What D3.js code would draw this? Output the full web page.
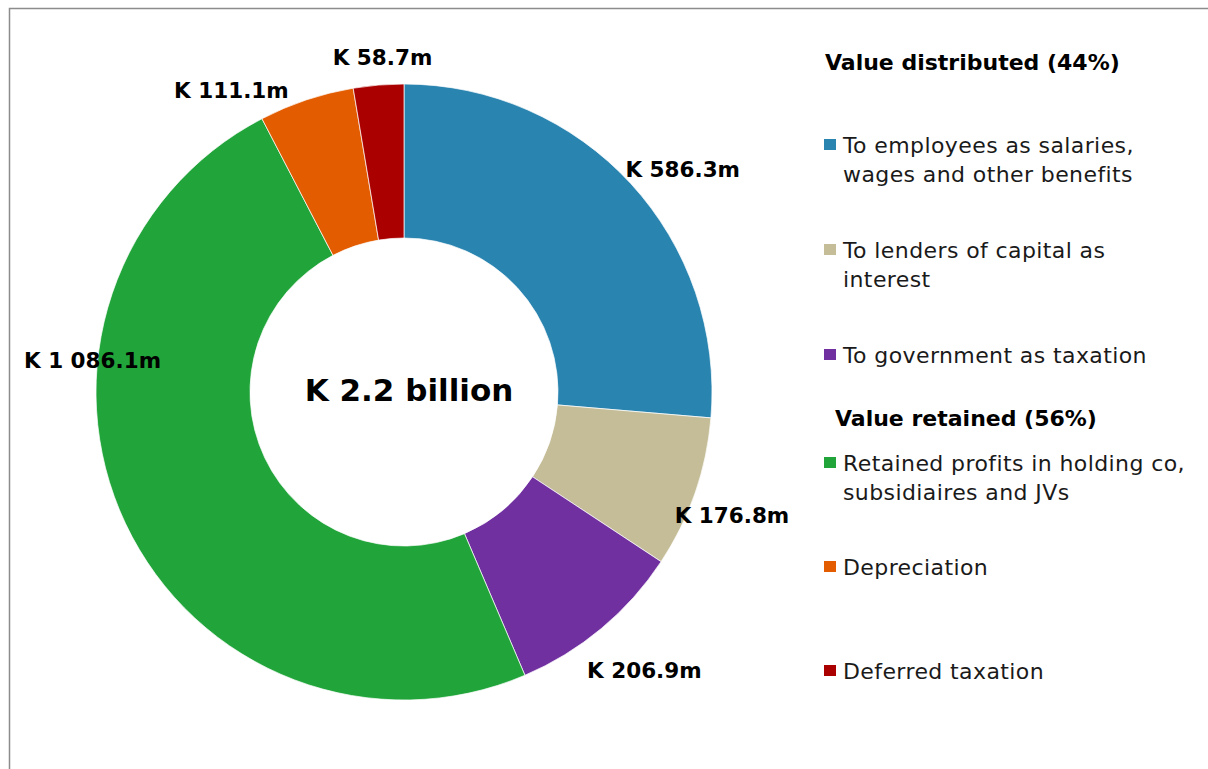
<!DOCTYPE html>
<html>
<head>
<meta charset="utf-8">
<script src="https://cdn.jsdelivr.net/npm/d3@7"></script>
<style>
  html, body { margin: 0; padding: 0; background: #fff; }
  svg { display: block; }
</style>
</head>
<body>
<svg id="chart" width="1208" height="769"></svg>
<script>
// Value added statement: how the K 2.2 billion was distributed or retained
const categories = [
  "To employees as salaries, wages and other benefits",
  "To lenders of capital as interest",
  "To government as taxation",
  "Retained profits in holding co, subsidiaires and JVs",
  "Depreciation",
  "Deferred taxation"
];
const values = [586.3, 176.8, 206.9, 1086.1, 111.1, 58.7];
const sliceLabels = ["K 586.3m", "K 176.8m", "K 206.9m", "K 1 086.1m", "K 111.1m", "K 58.7m"];
const colors = ["#2A84B0", "#C4BD97", "#7030A0", "#21A53A", "#E35C00", "#AA0000"];
const legendLines = [
  ["To employees as salaries,", "wages and other benefits"],
  ["To lenders of capital as", "interest"],
  ["To government as taxation"],
  ["Retained profits in holding co,", "subsidiaires and JVs"],
  ["Depreciation"],
  ["Deferred taxation"]
];
const groupHeadings = ["Value distributed (44%)", "Value retained (56%)"];
const centreTitle = "K 2.2 billion";

const svg = d3.select("#chart");
const bodyFont = "'DejaVu Sans', sans-serif";

// chart frame
svg.append("path")
  .attr("d", "M9.5,769 V8.5 H1208")
  .attr("fill", "none")
  .attr("stroke", "#8c8c8c")
  .attr("stroke-width", 1.5);

const cx = 404, cy = 392, outerR = 308, innerR = 154;
const g = svg.append("g").attr("transform", `translate(${cx},${cy})`);

const pie = d3.pie().sort(null).value(d => d)(values);
const arc = d3.arc().innerRadius(innerR).outerRadius(outerR);

g.selectAll("path.slice")
  .data(pie)
  .join("path")
  .attr("class", "slice")
  .attr("d", arc)
  .attr("fill", (d, i) => colors[i])
  .attr("stroke", "#fff")
  .attr("stroke-width", 0.7);

// data labels: anchored at the outer edge of each slice's mid-angle, then nudged
const labelNudge = [[52, -14], [37, 23], [43, 42], [-33, -163], [-75, -9], [4, -28]];
g.selectAll("text.val")
  .data(pie)
  .join("text")
  .attr("class", "val")
  .attr("x", (d, i) => Math.sin((d.startAngle + d.endAngle) / 2) * outerR + labelNudge[i][0])
  .attr("y", (d, i) => -Math.cos((d.startAngle + d.endAngle) / 2) * outerR + labelNudge[i][1])
  .attr("text-anchor", "middle")
  .attr("dominant-baseline", "central")
  .attr("font-family", bodyFont)
  .attr("font-weight", "bold")
  .attr("font-size", 21.5)
  .attr("fill", "#000")
  .text((d, i) => sliceLabels[i]);

g.append("text")
  .attr("x", 5).attr("y", -2)
  .attr("text-anchor", "middle")
  .attr("dominant-baseline", "central")
  .attr("font-family", bodyFont)
  .attr("font-weight", "bold")
  .attr("font-size", 31)
  .attr("fill", "#000")
  .text(centreTitle);

// legend
const legend = svg.append("g");
const headingY = [62, 418];
const itemY = [145, 250, 355, 463, 567, 671];
const lineGap = 29;

legend.selectAll("text.head")
  .data(groupHeadings)
  .join("text")
  .attr("class", "head")
  .attr("x", (d, i) => i === 0 ? 825 : 835)
  .attr("y", (d, i) => headingY[i])
  .attr("dominant-baseline", "central")
  .attr("font-family", bodyFont)
  .attr("font-weight", "bold")
  .attr("font-size", 22)
  .attr("fill", "#000")
  .text(d => d);

const items = legend.selectAll("g.item")
  .data(categories)
  .join("g")
  .attr("class", "item")
  .attr("transform", (d, i) => `translate(824,${itemY[i]})`);

items.append("rect")
  .attr("x", 0).attr("y", -6)
  .attr("width", 12).attr("height", 11)
  .attr("fill", (d, i) => colors[i]);

items.each(function (d, i) {
  const t = d3.select(this).append("text")
    .attr("font-family", bodyFont)
    .attr("font-size", 22)
    .attr("letter-spacing", 0.4)
    .attr("fill", "#1a1a1a");
  legendLines[i].forEach((line, k) => {
    t.append("tspan")
      .attr("x", 19)
      .attr("y", k * lineGap)
      .attr("dominant-baseline", "central")
      .text(line);
  });
});
</script>
</body>
</html>
